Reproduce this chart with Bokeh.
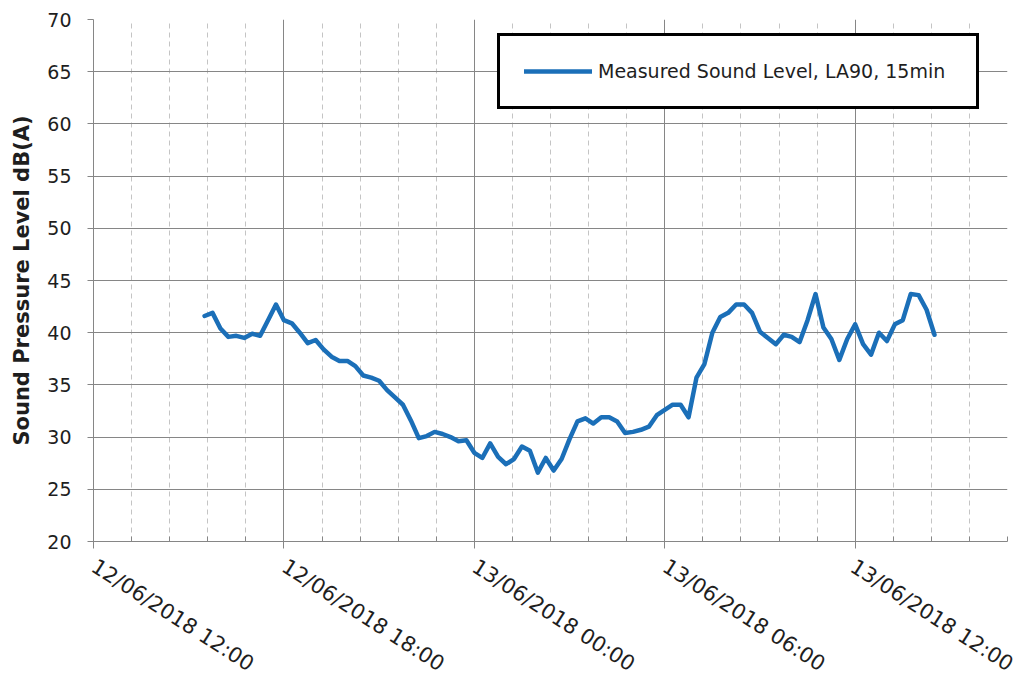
import pandas as pd
from bokeh.plotting import figure
from bokeh.models import (Range1d, FixedTicker, DatetimeTickFormatter, Legend,
                          LegendItem, ColumnDataSource)
from bokeh.embed import file_html
from bokeh.resources import INLINE

# ---------------- data ----------------
series_name = "Measured Sound Level, LA90, 15min"
start_time = "2018-06-12 15:30"
interval = "15min"
la90 = [41.6, 41.9, 40.4, 39.6, 39.7, 39.5, 39.9, 39.7, 41.2, 42.7,
        41.2, 40.9, 40.0, 39.0, 39.3, 38.4, 37.7, 37.3, 37.3, 36.8,
        35.9, 35.7, 35.4, 34.5, 33.8, 33.1, 31.6, 29.9, 30.1, 30.5,
        30.3, 30.0, 29.6, 29.7, 28.5, 28.0, 29.4, 28.1, 27.4, 27.9,
        29.1, 28.7, 26.6, 28.0, 26.8, 27.9, 29.8, 31.5, 31.8, 31.3,
        31.9, 31.9, 31.5, 30.4, 30.5, 30.7, 31.0, 32.1, 32.6, 33.1,
        33.1, 31.9, 35.7, 37.0, 40.0, 41.5, 41.9, 42.7, 42.7, 41.9,
        40.1, 39.5, 38.9, 39.8, 39.6, 39.1, 41.2, 43.7, 40.5, 39.4,
        37.4, 39.4, 40.8, 38.9, 37.9, 40.0, 39.2, 40.8, 41.2, 43.7,
        43.6, 42.2, 39.8]

y_label = "Sound Pressure Level dB(A)"
y_ticks = [20, 25, 30, 35, 40, 45, 50, 55, 60, 65, 70]
x_major_ticks = ["2018-06-12 12:00", "2018-06-12 18:00", "2018-06-13 00:00",
                 "2018-06-13 06:00", "2018-06-13 12:00"]
x_start = "2018-06-12 12:00"
x_end = "2018-06-13 16:48"
x_minor_step = "72min"

# ---------------- build ----------------
def ms(t):
    return pd.Timestamp(t).value // 10**6

times = pd.date_range(start_time, periods=len(la90), freq=interval)
src = ColumnDataSource(dict(t=times, v=la90))

p = figure(x_axis_type="datetime", output_backend="svg", toolbar_location=None,
           frame_width=914, frame_height=522,
           min_border_left=93, min_border_right=10, min_border_top=19,
           min_border_bottom=131,
           x_range=Range1d(pd.Timestamp(x_start), pd.Timestamp(x_end)),
           y_range=Range1d(20, 70))
p.outline_line_color = None
p.background_fill_color = "white"
p.border_fill_color = "white"

minor = [ms(t) for t in pd.date_range(x_start, x_end, freq=x_minor_step)]
p.xaxis.ticker = FixedTicker(ticks=[ms(t) for t in x_major_ticks], minor_ticks=minor)
p.xaxis.formatter = DatetimeTickFormatter(hours="%d/%m/%Y %H:%M", days="%d/%m/%Y %H:%M",
                                          minutes="%d/%m/%Y %H:%M", hourmin="%d/%m/%Y %H:%M")
p.yaxis.ticker = FixedTicker(ticks=y_ticks)

axis_col = "#868686"
for ax in (p.xaxis[0], p.yaxis[0]):
    ax.axis_line_color = axis_col
    ax.major_tick_line_color = axis_col
    ax.minor_tick_line_color = axis_col
    ax.major_label_text_font = "DejaVu Sans"
    ax.major_label_text_color = "#1e1e1e"

p.yaxis.major_label_text_font_size = "19px"
p.xaxis.major_label_text_font_size = "21px"

p.xaxis.major_tick_in = 5
p.xaxis.major_tick_out = 7
p.xaxis.minor_tick_in = 5
p.xaxis.minor_tick_out = 0
p.xaxis.major_label_orientation = -0.57
p.xaxis.major_label_standoff = 16

p.yaxis.major_tick_in = 0
p.yaxis.major_tick_out = 6
p.yaxis.minor_tick_in = 0
p.yaxis.minor_tick_out = 0
p.yaxis.major_label_standoff = 16
p.yaxis.axis_label = y_label
p.yaxis.axis_label_text_font = "DejaVu Sans"
p.yaxis.axis_label_text_font_style = "bold"
p.yaxis.axis_label_text_font_size = "21px"
p.yaxis.axis_label_text_color = "#1e1e1e"
p.yaxis.axis_label_standoff = 10

p.ygrid.grid_line_color = axis_col
p.ygrid.grid_line_width = 1
p.xgrid.grid_line_color = axis_col
p.xgrid.grid_line_width = 1
p.xgrid.minor_grid_line_color = "#c4c4c4"
p.xgrid.minor_grid_line_dash = "5 4"
p.xgrid.minor_grid_line_width = 1

r = p.line("t", "v", source=src, line_color="#1b6fb8", line_width=4.5,
           line_join="round", line_cap="round")

legend = Legend(items=[LegendItem(label=series_name, renderers=[r])],
                location=(404, 432), margin=0, padding=24,
                glyph_width=68, glyph_height=20, label_standoff=6,
                label_width=354, label_height=20,
                label_text_font="DejaVu Sans", label_text_font_size="19px",
                label_text_color="#1e1e1e",
                border_line_color="black", border_line_alpha=1.0,
                border_line_width=3,
                background_fill_color="white", background_fill_alpha=1)
p.add_layout(legend)

open("out.html", "w").write(file_html(p, INLINE))
